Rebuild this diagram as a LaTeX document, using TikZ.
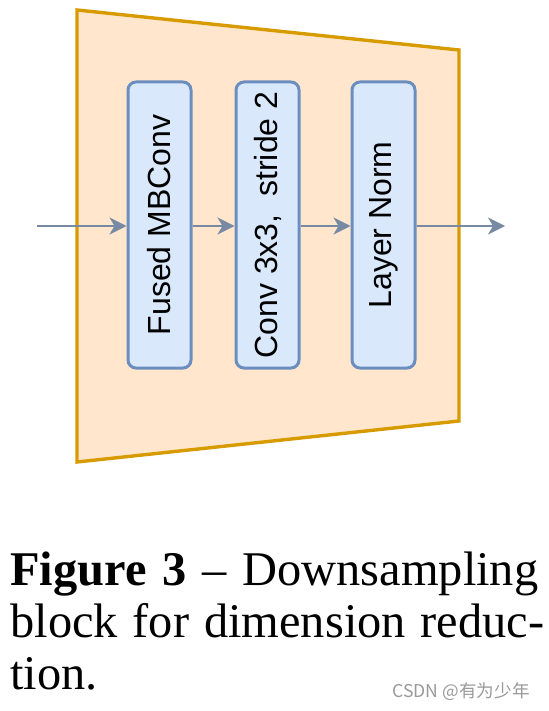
\documentclass[tikz,border=0pt]{standalone}
\usepackage{fontspec}
\setmainfont{Liberation Serif}
\newfontfamily\boxfont{Liberation Sans}
\newfontfamily\cjk{Noto Sans CJK SC}
\usetikzlibrary{arrows.meta}
\definecolor{trapfill}{HTML}{FFE6CC}
\definecolor{trapedge}{HTML}{D79B00}
\definecolor{layerfill}{HTML}{DAE8FC}
\definecolor{layeredge}{HTML}{6C8EBF}
\definecolor{flowline}{HTML}{788AA3}
\tikzset{
  layerbox/.style={draw=layeredge, fill=layerfill, line width=1.5pt, rounded corners=4pt,
                   rotate=90, minimum width=143pt, minimum height=31.5pt, inner sep=0pt,
                   font=\boxfont\fontsize{16}{19}\selectfont},
  flow/.style={draw=flowline, line width=0.9pt, -{Stealth[length=8.5pt, width=8.5pt, inset=2.5pt]}},
}
\begin{document}
\begin{tikzpicture}[x=0.5pt, y=-0.5pt]
    \useasboundingbox (0,0) rectangle (548,711);
    \draw[fill=trapfill, draw=trapedge, line width=1.7pt] (77,10) -- (459,50) -- (459,421) -- (77,462) -- cycle;
    \node[layerbox] (fused) at (159.5,225) {Fused MBConv};
    \node[layerbox] (conv) at (267.5,225) {Conv 3x3,\ \ stride 2};
    \node[layerbox] (norm) at (383.5,225) {Layer Norm};
    \coordinate (in) at (37,226);
    \coordinate (out) at (505,226);
    \draw[flow] (in) -- (fused.north |- in);
    \draw[flow] (fused.south |- in) -- (conv.north |- in);
    \draw[flow] (conv.south |- in) -- (norm.north |- in);
    \draw[flow] (norm.south |- in) -- (out);
    \node[anchor=base west, inner sep=0pt, text width=264pt, align=justify,
          font=\fontsize{24.2}{26}\selectfont] (caption) at (10,585)
      {\textbf{Figure 3} -- Downsampling\linebreak block for dimension reduc-\kern-3pt\linebreak tion.};
    \node[anchor=base east, inner sep=0pt, text=gray!80, font=\cjk\fontsize{8.8}{10}\selectfont] (mark) at (530,697) {CSDN @有为少年};
  \end{tikzpicture}
\end{document}
